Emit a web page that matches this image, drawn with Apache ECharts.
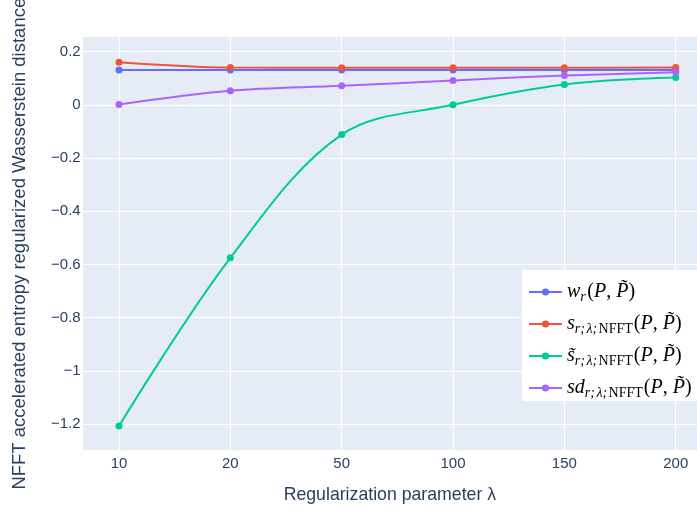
<!DOCTYPE html>
<html>
<head>
<meta charset="utf-8">
<script src="https://cdn.jsdelivr.net/npm/echarts@6/dist/echarts.min.js"></script>
<style>
html,body{margin:0;padding:0;background:#fff;}
#chart{width:697px;height:509px;}
</style>
</head>
<body>
<div id="chart"></div>
<script>
// ---- data ----
const categories = ['10', '20', '50', '100', '150', '200'];
const wR      = [0.131, 0.131, 0.131, 0.131, 0.131, 0.131];
const sR      = [0.160, 0.140, 0.139, 0.139, 0.139, 0.140];
const sTildeR = [-1.207, -0.575, -0.112, 0.000, 0.0765, 0.1028];
const sdR     = [0.001, 0.0527, 0.0714, 0.0915, 0.110, 0.122];
const yTickValues = [-1.2, -1, -0.8, -0.6, -0.4, -0.2, 0, 0.2];
const yTickLabels = ['\u22121.2', '\u22121', '\u22120.8', '\u22120.6', '\u22120.4', '\u22120.2', '0', '0.2'];
const seriesNames = ['w_r', 's_r', 'stilde_r', 'sd_r'];
const legendTexts = {
  'w_r': '{it|w}{si|r}{rm|(}{it|P}{rm|, }{it|P\u0303}{rm|)}',
  's_r': '{it|s}{si|r;}{si|\u03bb;}{sr|NFFT}{rm|(}{it|P}{rm|, }{it|P\u0303}{rm|)}',
  'stilde_r': '{it|s\u0303}{si|r;}{si|\u03bb;}{sr|NFFT}{rm|(}{it|P}{rm|, }{it|P\u0303}{rm|)}',
  'sd_r': '{it|sd}{si|r;}{si|\u03bb;}{sr|NFFT}{rm|(}{it|P}{rm|, }{it|P\u0303}{rm|)}'
};
const colors = ['#636efa', '#ef553b', '#00cc96', '#ab63fa'];
const values = [wR, sR, sTildeR, sdR];

const chart = echarts.init(document.getElementById('chart'), null, {renderer: 'canvas'});
const textColor = '#2a3f5f';
const font = 'Liberation Sans, Arial, sans-serif';
const serif = 'Liberation Serif, Times New Roman, serif';

const series = values.map((vals, k) => ({
  name: seriesNames[k],
  type: 'line',
  smooth: 0.35,
  symbol: 'circle',
  symbolSize: 7,
  showSymbol: true,
  color: colors[k],
  lineStyle: {width: 2, color: colors[k]},
  itemStyle: {color: colors[k]},
  data: vals.map((v, i) => [i, v]),
  xAxisIndex: 0,
  yAxisIndex: 0,
  z: 3 + k
}));

chart.setOption({
  animation: false,
  backgroundColor: '#fff',
  textStyle: {fontFamily: font},
  grid: {
    left: 82.7, top: 36.7, right: 0, bottom: 58.3,
    show: true, backgroundColor: '#e5ecf6', borderWidth: 0,
    containLabel: false,
    outerBoundsMode: 'none'
  },
  xAxis: [{
    type: 'value',
    min: -0.326,
    max: 5.191,
    splitNumber: 5,
    axisLine: {show: false},
    axisTick: {show: false},
    splitLine: {show: true, lineStyle: {color: '#fff', width: 1}},
    axisLabel: {
      color: textColor, fontSize: 15, fontFamily: font, margin: 6,
      showMinLabel: false, showMaxLabel: false,
      formatter: (v) => {
        const i = Math.round(v);
        return Math.abs(v - i) < 1e-6 && categories[i] !== undefined ? categories[i] : '';
      }
    },
    name: 'Regularization parameter \u03bb',
    nameLocation: 'middle',
    nameGap: 35,
    nameTextStyle: {color: textColor, fontSize: 17.7, fontFamily: font}
  }, {
    type: 'value',
    min: -0.326,
    max: 5.191,
    position: 'bottom',
    axisLine: {show: true, onZero: true, lineStyle: {color: '#fff', width: 2}},
    axisTick: {show: false},
    axisLabel: {show: false},
    splitLine: {show: false}
  }],
  yAxis: {
    type: 'value',
    min: -1.3,
    max: 0.256,
    splitNumber: 7,
    axisLine: {show: false},
    axisTick: {show: false},
    splitLine: {show: true, lineStyle: {color: '#fff', width: 1}},
    axisLabel: {
      color: textColor, fontSize: 15, fontFamily: font, margin: 2,
      showMinLabel: false, showMaxLabel: false,
      formatter: (v) => {
        for (let i = 0; i < yTickValues.length; i++) {
          if (Math.abs(v - yTickValues[i]) < 1e-6) return yTickLabels[i];
        }
        return '';
      }
    },
    name: 'NFFT accelerated entropy regularized Wasserstein distance',
    nameLocation: 'middle',
    nameGap: 53,
    nameRotate: 90,
    nameTextStyle: {color: textColor, fontSize: 18.5, fontFamily: font}
  },
  legend: {
    orient: 'vertical',
    left: 522,
    top: 270,
    padding: [12, 12, 1, 6],
    itemGap: 10,
    itemWidth: 33,
    itemHeight: 9,
    backgroundColor: '#fff',
    borderWidth: 0,
    data: seriesNames,
    formatter: (name) => legendTexts[name],
    textStyle: {
      color: '#000',
      rich: {
        it: {fontFamily: serif, fontStyle: 'italic', fontSize: 20, lineHeight: 24, color: '#000', verticalAlign: 'middle'},
        rm: {fontFamily: serif, fontSize: 20, lineHeight: 24, color: '#000', verticalAlign: 'middle'},
        si: {fontFamily: serif, fontStyle: 'italic', fontSize: 14, lineHeight: 14, color: '#000', verticalAlign: 'bottom', padding: [0, 1.5, 0, 0]},
        sr: {fontFamily: serif, fontSize: 14, lineHeight: 14, color: '#000', verticalAlign: 'bottom', padding: [0, 1, 0, 0]}
      }
    }
  },
  series: series
});
</script>
</body>
</html>
